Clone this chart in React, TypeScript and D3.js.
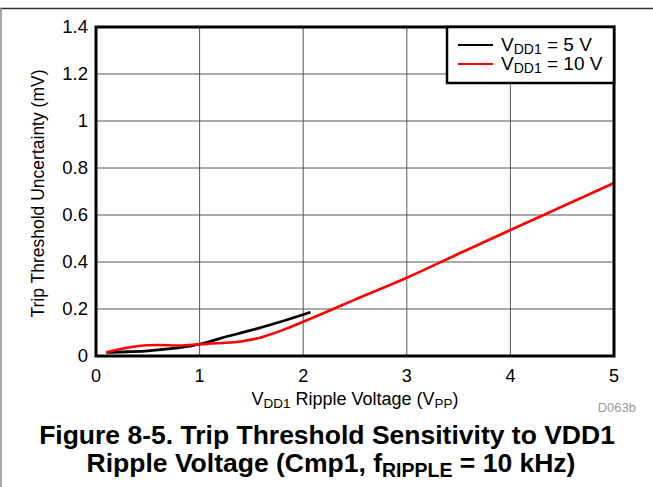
import React from "react";
import * as d3 from "d3";

const xTicks = [0, 1, 2, 3, 4, 5];
const yTicks = [0, 0.2, 0.4, 0.6, 0.8, 1, 1.2, 1.4];
const yTickLabels = ["0", "0.2", "0.4", "0.6", "0.8", "1", "1.2", "1.4"];

const vdd5X = [0.1, 0.3, 0.5, 0.7, 0.9, 1.0, 1.2, 1.5, 1.8, 2.07];
const vdd5Y = [0.015, 0.018, 0.022, 0.03, 0.042, 0.05, 0.075, 0.11, 0.148, 0.186];

const vdd10X = [0.1, 0.3, 0.5, 0.6, 0.8, 1.0, 1.2, 1.4, 1.6, 1.8, 2.0, 2.2, 2.5, 3.0, 3.5, 4.0, 4.5, 5.0];
const vdd10Y = [0.016, 0.035, 0.046, 0.047, 0.045, 0.05, 0.055, 0.062, 0.08, 0.11, 0.146, 0.183, 0.24, 0.333, 0.435, 0.536, 0.636, 0.736];

const W = 653, H = 487;
const L = 96, R = 614, T = 27, B = 356;
const FONT = "'Liberation Sans', Arial, sans-serif";

export default function App() {
  const x = d3.scaleLinear().domain([0, 5]).range([L, R]);
  const y = d3.scaleLinear().domain([0, 1.4]).range([B, T]);
  const line = d3
    .line<[number, number]>()
    .x((d) => x(d[0]))
    .y((d) => y(d[1]))
    .curve(d3.curveMonotoneX);
  const d5 = line(vdd5X.map((v, i) => [v, vdd5Y[i]] as [number, number])) || "";
  const d10 = line(vdd10X.map((v, i) => [v, vdd10Y[i]] as [number, number])) || "";

  return (
    <svg
      width={W}
      height={H}
      style={{ position: "absolute", left: 0, top: 0, background: "#fff" }}
      fontFamily={FONT}
    >
      <rect x={0} y={0} width={W} height={H} fill="#fff" />
      {/* figure frame */}
      <line x1={0} x2={W} y1={8.5} y2={8.5} stroke="#333" strokeWidth={1.5} />
      <line x1={1} x2={1} y1={8} y2={H} stroke="#888" strokeWidth={1.5} />

      {/* grid */}
      {xTicks.slice(1, -1).map((t) => (
        <line key={"gx" + t} x1={x(t)} x2={x(t)} y1={T} y2={B} stroke="#555" strokeWidth={1} />
      ))}
      {yTicks.slice(1, -1).map((t) => (
        <line key={"gy" + t} x1={L} x2={R} y1={y(t)} y2={y(t)} stroke="#555" strokeWidth={1} />
      ))}

      {/* curves */}
      <path d={d5} fill="none" stroke="#000" strokeWidth={2.8} />
      <path d={d10} fill="none" stroke="#ff0000" strokeWidth={2.6} />

      {/* plot border */}
      <rect x={L} y={T} width={R - L} height={B - T} fill="none" stroke="#000" strokeWidth={3} />

      {/* legend */}
      <rect x={447} y={T} width={R - 447} height={56} fill="#fff" stroke="#000" strokeWidth={2.5} />
      <line x1={458} x2={493} y1={45} y2={45} stroke="#000" strokeWidth={2} />
      <line x1={458} x2={493} y1={64} y2={64} stroke="#ff0000" strokeWidth={2} />
      <text x={501} y={51} fontSize={19}>
        V<tspan fontSize={14} dy={3}>DD1</tspan>
        <tspan dy={-3}> = 5 V</tspan>
      </text>
      <text x={501} y={70} fontSize={19}>
        V<tspan fontSize={14} dy={3}>DD1</tspan>
        <tspan dy={-3}> = 10 V</tspan>
      </text>

      {/* y tick labels */}
      {yTicks.map((t, i) => (
        <text key={"yl" + t} x={88} y={y(t) + 6} fontSize={18.5} textAnchor="end">
          {yTickLabels[i]}
        </text>
      ))}
      {/* x tick labels */}
      {xTicks.map((t) => (
        <text key={"xl" + t} x={x(t)} y={382} fontSize={18} textAnchor="middle">
          {t}
        </text>
      ))}

      {/* axis titles */}
      <text
        transform={`translate(44,${(T + B) / 2 + 2}) rotate(-90)`}
        fontSize={17.5}
        textAnchor="middle"
      >
        Trip Threshold Uncertainty (mV)
      </text>
      <text x={355} y={405} fontSize={18} textAnchor="middle">
        V<tspan fontSize={13.5} dy={3}>DD1</tspan>
        <tspan dy={-3}> Ripple Voltage (V</tspan>
        <tspan fontSize={13.5} dy={3}>PP</tspan>
        <tspan dy={-3}>)</tspan>
      </text>
      <text x={636} y={412} fontSize={13} textAnchor="end" fill="#999">
        D063b
      </text>

      {/* caption */}
      <text x={327} y={444} fontSize={26.5} fontWeight="bold" textAnchor="middle">
        Figure 8-5. Trip Threshold Sensitivity to VDD1
      </text>
      <text x={331} y={472} fontSize={26.5} fontWeight="bold" textAnchor="middle">
        Ripple Voltage (Cmp1, f<tspan fontSize={19.5} dy={5}>RIPPLE</tspan>
        <tspan dy={-5}> = 10 kHz)</tspan>
      </text>
    </svg>
  );
}
